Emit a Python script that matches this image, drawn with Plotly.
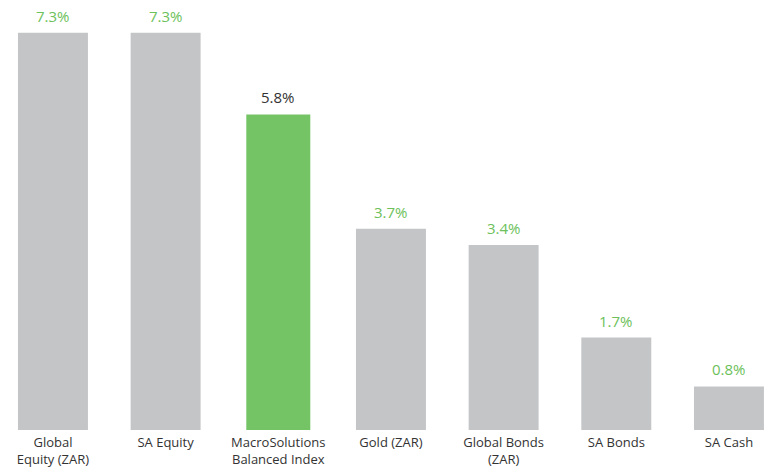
import plotly.graph_objects as go

categories = ["Global<br>Equity (ZAR)", "SA Equity", "MacroSolutions<br>Balanced Index",
              "Gold (ZAR)", "Global Bonds<br>(ZAR)", "SA Bonds", "SA Cash"]
values = [7.3, 7.3, 5.8, 3.7, 3.4, 1.7, 0.8]
labels = ["7.3%", "7.3%", "5.8%", "3.7%", "3.4%", "1.7%", "0.8%"]

GREY = "#C4C5C7"
GREEN = "#74C365"
LABEL_GREEN = "#6CC15A"
DARK = "#333333"

highlight = "MacroSolutions<br>Balanced Index"
bar_colors = [GREEN if c == highlight else GREY for c in categories]
bar_widths = [0.568 if c == highlight else 0.621 for c in categories]
label_colors = [DARK if c == highlight else LABEL_GREEN for c in categories]

fig = go.Figure(go.Bar(
    x=categories, y=values,
    marker=dict(color=bar_colors, line=dict(width=0)),
    width=bar_widths,
    hoverinfo="skip",
))

for c, v, t, col in zip(categories, values, labels, label_colors):
    fig.add_annotation(x=c, y=v, text=t, showarrow=False, yanchor="bottom",
                       yshift=5, font=dict(family="Open Sans", size=15, color=col))

fig.update_layout(
    width=764, height=468,
    margin=dict(l=0, r=0, t=0, b=38),
    paper_bgcolor="white", plot_bgcolor="white",
    showlegend=False,
    font=dict(family="Open Sans", size=13, color=DARK),
    xaxis=dict(type="category", range=[-0.470, 6.311], showgrid=False,
               showline=False, zeroline=False, ticks="", automargin=False,
               ticklabelstandoff=3,
               tickfont=dict(size=13, color=DARK)),
    yaxis=dict(range=[0, 7.904], visible=False, showgrid=False, zeroline=False),
)

fig.write_html("out.html", config={"displayModeBar": False},
               post_script="document.body.style.margin='0';document.body.style.overflow='hidden';")
